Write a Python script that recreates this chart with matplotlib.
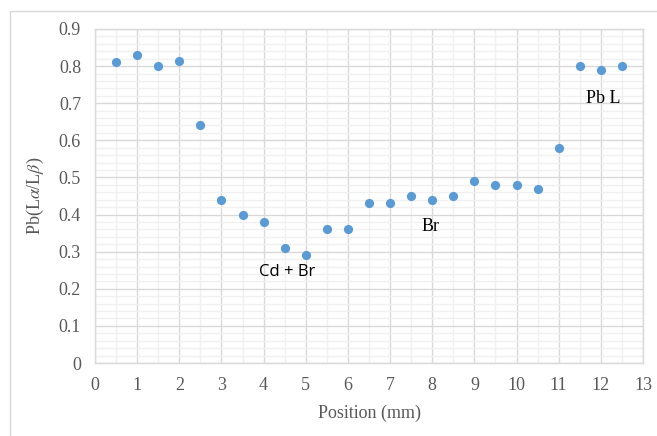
import matplotlib.pyplot as plt
import matplotlib.patches as patches
from matplotlib.ticker import MultipleLocator

# data
position = [0.5, 1, 1.5, 2, 2.5, 3, 3.5, 4, 4.5, 5, 5.5, 6, 6.5,
            7, 7.5, 8, 8.5, 9, 9.5, 10, 10.5, 11, 11.5, 12, 12.5]
ratio = [0.81, 0.83, 0.80, 0.815, 0.64, 0.44, 0.40, 0.38, 0.31, 0.29, 0.36, 0.36, 0.43,
         0.43, 0.45, 0.44, 0.45, 0.49, 0.48, 0.48, 0.47, 0.58, 0.80, 0.79, 0.80]

labels = ['Cd + Br', 'Br', 'Pb L']
label_x = [4.55, 7.97, 12.05]
label_y = [0.245, 0.367, 0.714]

plt.rcParams['font.family'] = ['Liberation Serif', 'DejaVu Serif']
plt.rcParams['mathtext.fontset'] = 'stix'

fig = plt.figure(figsize=(6.57, 4.36), dpi=100)
ax = fig.add_axes([0.1446, 0.1674, 0.8341, 0.7661])

# outer chart frame
fig.patches.append(patches.Rectangle((10 / 657, -0.01), 1.0, (425 / 436) + 0.01,
                                     transform=fig.transFigure, fill=False,
                                     edgecolor='#D9D9D9', linewidth=1.0))

ax.scatter(position, ratio, s=44, color='#5B9BD5', zorder=3, linewidths=0)

ax.set_xlim(0, 13)
ax.set_ylim(0, 0.9)
ax.xaxis.set_major_locator(MultipleLocator(1))
ax.xaxis.set_minor_locator(MultipleLocator(0.5))
ax.yaxis.set_major_locator(MultipleLocator(0.1))
ax.yaxis.set_minor_locator(MultipleLocator(0.02))
ax.set_yticks([i / 10 for i in range(10)])
ax.set_yticklabels(['0'] + ['%.1f' % (i / 10) for i in range(1, 10)])

ax.grid(which='major', color='#D9D9D9', linewidth=1.0)
ax.grid(which='minor', color='#F0F0F0', linewidth=1.0)
ax.set_axisbelow(True)
for s in ax.spines.values():
    s.set_color('#D9D9D9')
    s.set_linewidth(1.0)

ax.tick_params(which='both', length=0, labelsize=13, labelcolor='#595959', pad=10)
ax.set_xlabel('Position (mm)', fontsize=13, color='#595959', labelpad=8)
ax.set_ylabel(r'Pb(L$\alpha$/L$\beta$)', fontsize=13, color='#595959', labelpad=9)

fonts = [['Open Sans', 'DejaVu Sans'], ['Liberation Serif'], ['Liberation Serif']]
sizes = [12, 13, 13]
for t, x, y, f, fs in zip(labels, label_x, label_y, fonts, sizes):
    ax.text(x, y, t, ha='center', va='center', fontsize=fs, color='black', family=f)

fig.savefig('out.png', dpi=100)
